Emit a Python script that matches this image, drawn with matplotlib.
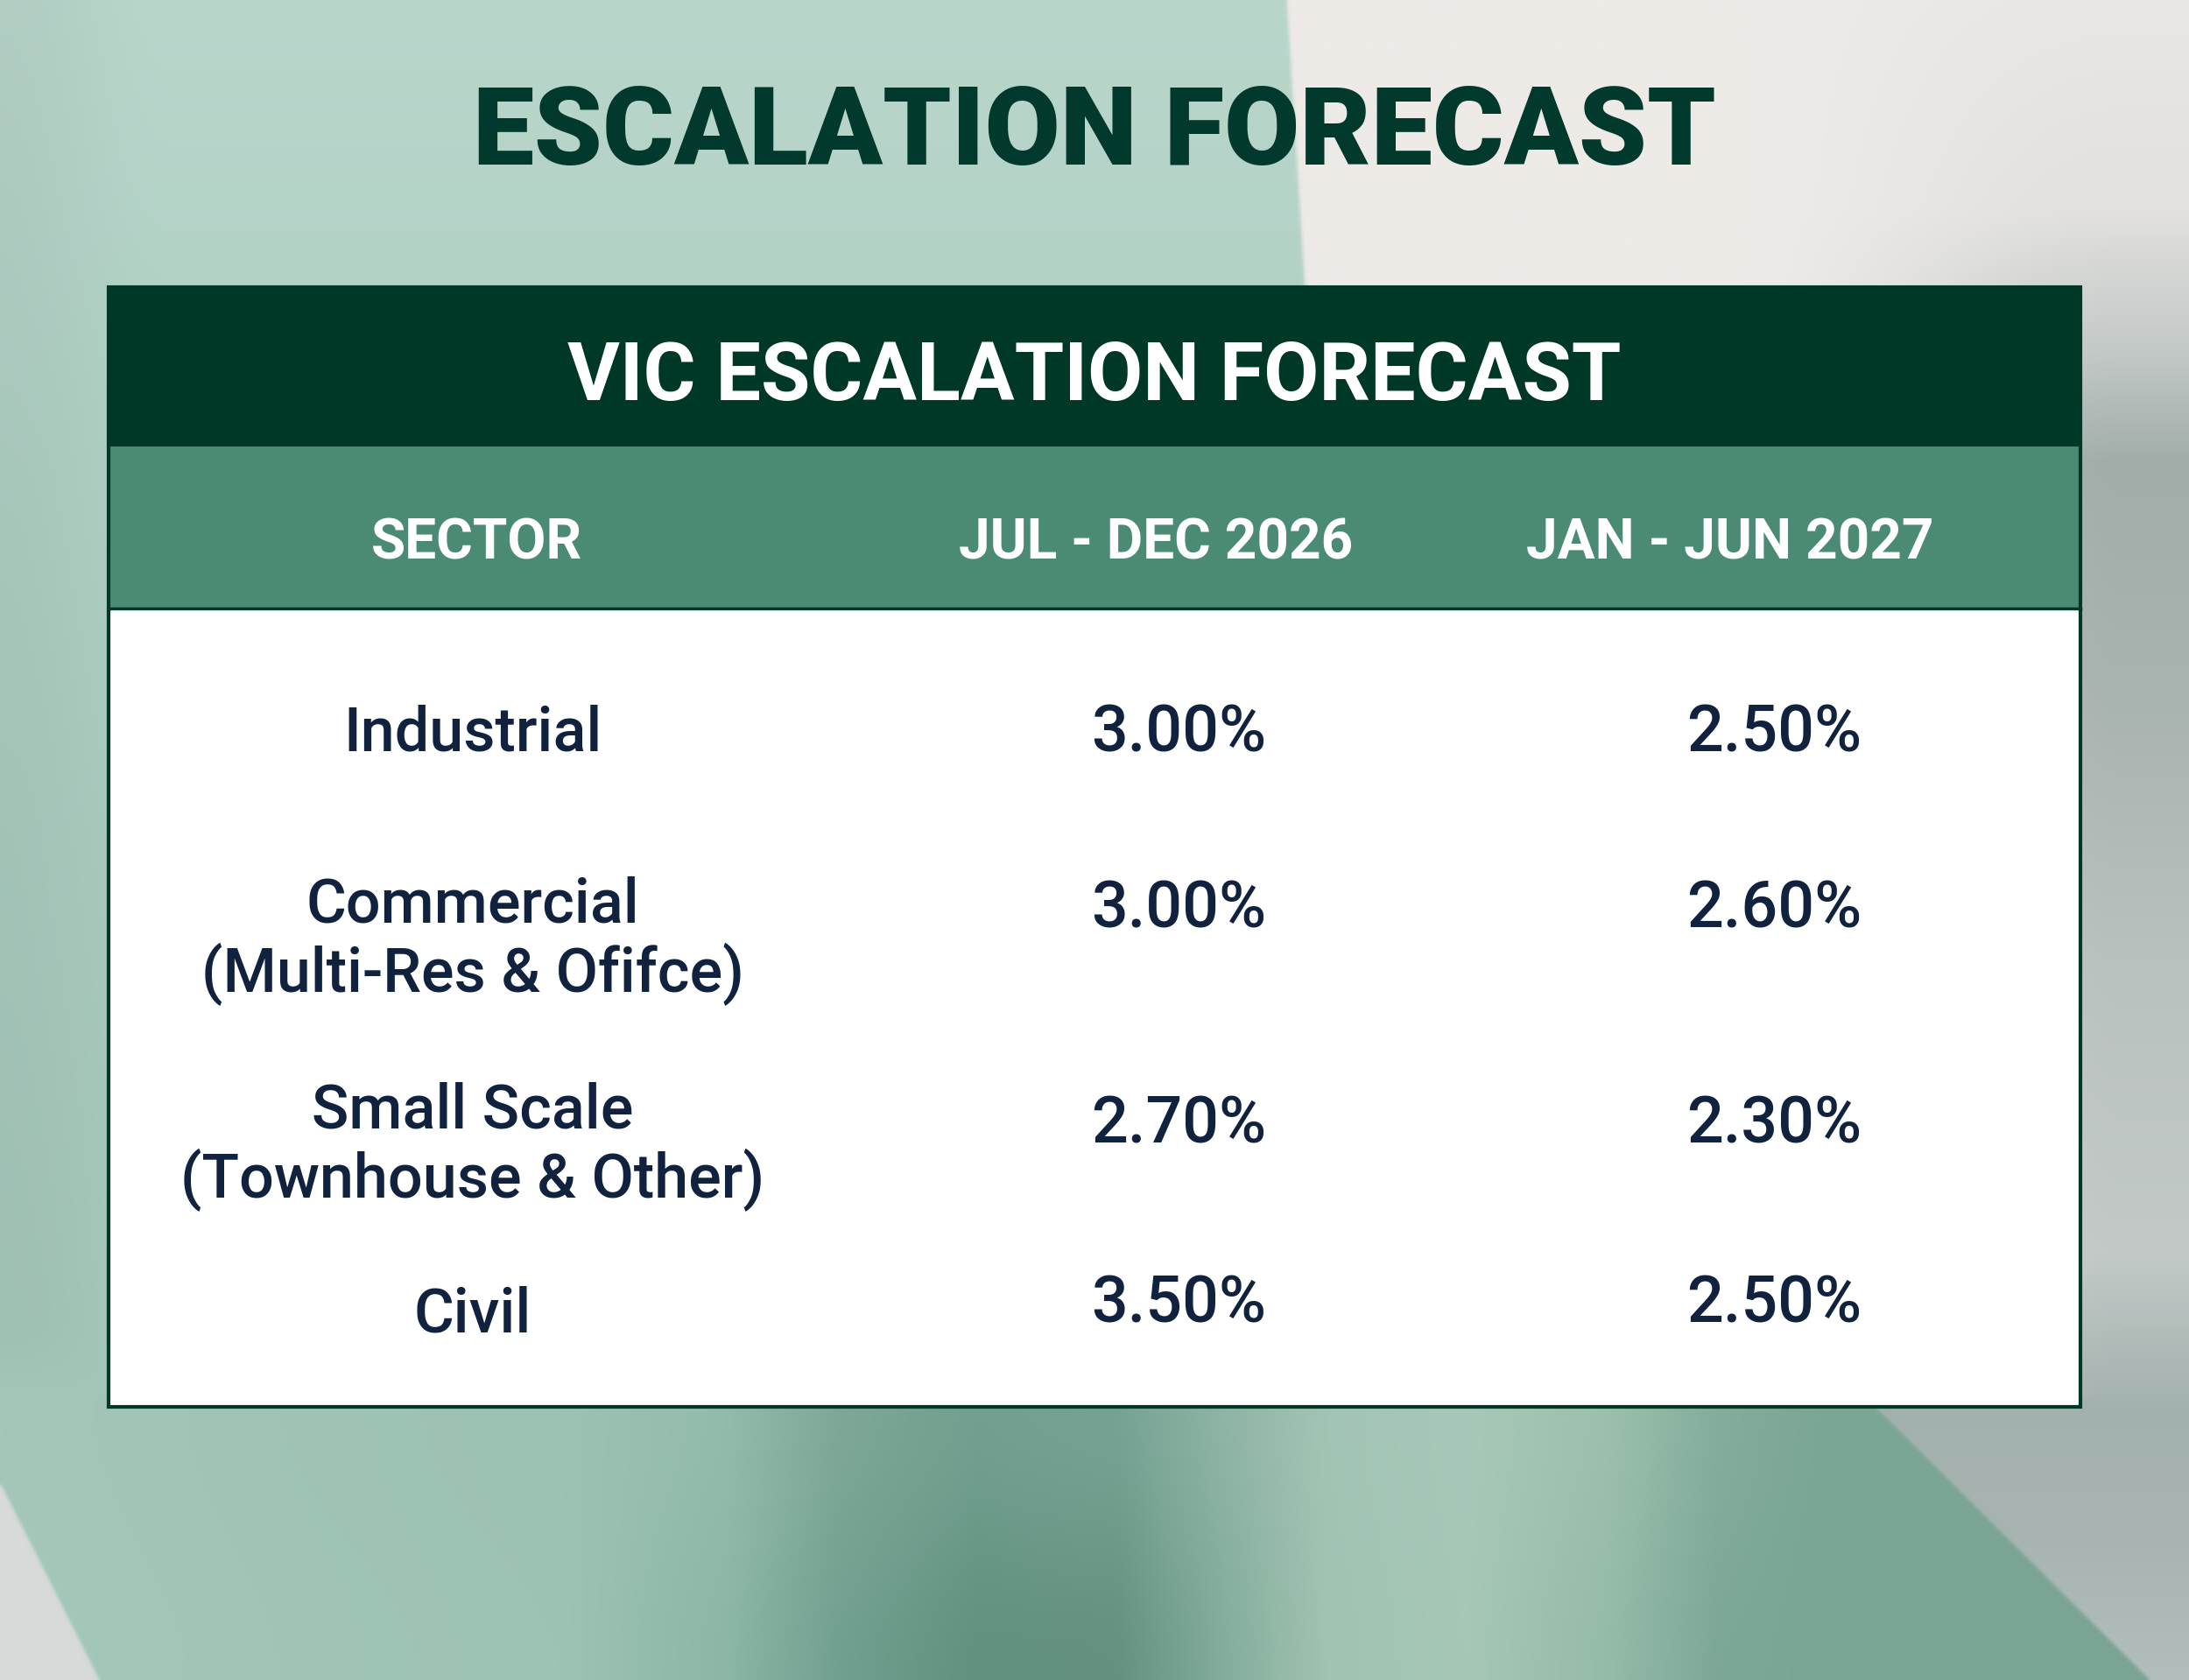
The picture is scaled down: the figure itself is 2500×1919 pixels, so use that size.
import numpy as np
import matplotlib
matplotlib.use("Agg")
import matplotlib.pyplot as plt
from matplotlib.colors import to_rgb
from matplotlib.patches import Rectangle

# ---------------- data ----------------
title = "ESCALATION FORECAST"
table_title = "VIC ESCALATION FORECAST"
headers = ["SECTOR", "JUL - DEC 2026", "JAN - JUN 2027"]
sectors = ["Industrial",
           "Commercial\n(Multi-Res & Ofifce)",
           "Small Scale\n(Townhouse & Other)",
           "Civil"]
jul_dec_2026 = [3.00, 3.00, 2.70, 3.50]
jan_jun_2027 = [2.50, 2.60, 2.30, 2.50]

# ---------------- style / layout ----------------
W_PX, H_PX = 2500, 1919
DARK = "#003828"
MID = "#4b8b74"
TEXT = "#10223e"
FONT = "Roboto"

fig = plt.figure(figsize=(W_PX / 100, H_PX / 100), dpi=100)
ax = fig.add_axes([0, 0, 1, 1])
ax.set_xlim(0, W_PX)
ax.set_ylim(H_PX, 0)
ax.axis("off")

# ---------------- background ----------------
DW, DH = 784, 602  # working grid (display units 0..1568 x 0..1204)
u = np.linspace(0, 1568, DW)
v = np.linspace(0, 1204, DH)
U, V = np.meshgrid(u, v)


def ss(e0, e1, x):
    t = np.clip((x - e0) / (e1 - e0), 0, 1)
    return t * t * (3 - 2 * t)


def stops(x, xs, cols):
    c = np.array([to_rgb(h) for h in cols])
    return np.stack([np.interp(x, xs, c[:, k]) for k in range(3)], axis=-1)


# mint base
img = stops(V, [0, 200, 600, 1204], ["#b9d6cb", "#b3d2c6", "#a9cbbe", "#a2c6b8"])
edge = ss(120, 0, U)[..., None]
img = img * (1 - 0.04 * edge)

# bottom vertical bands
b_u = [0, 400, 520, 600, 700, 800, 880, 950, 1050, 1150, 1230, 1300, 1568]
top_c = ["#a2c6b8", "#9cc2b3", "#93bbab", "#7ea797", "#729f8f", "#76a293", "#8fb5a5",
         "#a2c4b4", "#a7c8b8", "#9cc0ae", "#84ad9b", "#7ca794", "#7ca794"]
bot_c = ["#a3c7b9", "#9dc3b4", "#8cb6a6", "#72a090", "#62917f", "#65917f", "#85ae9c",
         "#a0c3b2", "#a6c7b6", "#95bba9", "#7ea896", "#7aa594", "#7aa594"]
band_top = stops(U, b_u, top_c)
band_bot = stops(U, b_u, bot_c)
tv = ss(1010, 1204, V)[..., None]
band = band_top * (1 - tv) + band_bot * tv
wb = ss(940, 1010, V)[..., None]
img = img * (1 - wb) + band * wb

# right light / grey region bounded by a sweeping curve
bnd = np.interp(V, [0, 206, 1010, 1204], [922, 935, 1345, 1540])
mR = ss(bnd - 2, bnd + 2, U)[..., None]
offwhite = np.array(to_rgb("#edeae7"))
strip = stops(V, [0, 150, 250, 330, 500, 700, 900, 1010, 1100, 1204],
              ["#e9e7e4", "#e2e1de", "#c3c9c7", "#a2adaa", "#a9b3b0", "#bac2c0",
               "#c2c9c7", "#a3b1ae", "#a8b4b2", "#b2bebd"])
fR = np.maximum(ss(1250, 1520, U), ss(900, 1010, V))[..., None]
rcol = offwhite * (1 - fR) + strip * fR
img = img * (1 - mR) + rcol * mR

# bottom-left grey sliver
us = np.interp(V, [1065, 1204], [0, 70])
mS = (ss(us + 2, us - 2, U) * (V > 1065))[..., None]
img = img * (1 - mS) + np.array(to_rgb("#d6dad8")) * mS

ax.imshow(np.clip(img, 0, 1), extent=(0, W_PX, H_PX, 0), aspect="auto",
          interpolation="bilinear", zorder=0)

# ---------------- title ----------------
ax.text(1250, 188, title, ha="center", va="baseline", fontsize=90,
        fontweight="black", family=FONT, color="#013a2c", zorder=5)

# ---------------- table ----------------
tl, tr, tt, hb, sb, tb = 124, 2376, 328, 510, 695, 1607
ax.add_patch(Rectangle((tl, sb), tr - tl, tb - sb, facecolor="white",
                       edgecolor="none", zorder=2))
ax.add_patch(Rectangle((tl, tt), tr - tl, hb - tt, facecolor=DARK,
                       edgecolor="none", zorder=2))
ax.add_patch(Rectangle((tl, hb), tr - tl, sb - hb, facecolor=MID,
                       edgecolor="none", zorder=2))
ax.plot([tl, tr], [sb, sb], color=DARK, lw=2.5, zorder=3)
ax.add_patch(Rectangle((tl, tt), tr - tl, tb - tt, facecolor="none",
                       edgecolor=DARK, lw=3.0, zorder=4))

ax.text(1250, 457, table_title, ha="center", va="baseline", fontsize=66,
        fontweight="bold", family=FONT, color="white", zorder=5)

header_x = [544, 1320, 1976]
for hx, h in zip(header_x, headers):
    ax.text(hx, 638, h, ha="center", va="baseline", fontsize=46,
            fontweight="bold", family=FONT, color="white", zorder=5)

label_x = 540
col_x = [1346, 2026]
label_base = [857, 1053, 1288, 1521]
value_base = [858, 1059, 1305, 1510]
line_gap = 80

for i, s in enumerate(sectors):
    for j, line in enumerate(s.split("\n")):
        ax.text(label_x, label_base[i] + j * line_gap, line, ha="center",
                va="baseline", fontsize=50.5, fontweight="medium", family=FONT,
                color=TEXT, zorder=5)
    for cx, vals in zip(col_x, [jul_dec_2026, jan_jun_2027]):
        ax.text(cx, value_base[i], f"{vals[i]:.2f}%", ha="center",
                va="baseline", fontsize=53, fontweight="medium", family=FONT,
                color=TEXT, zorder=5)

fig.savefig("out.png", dpi=100)
